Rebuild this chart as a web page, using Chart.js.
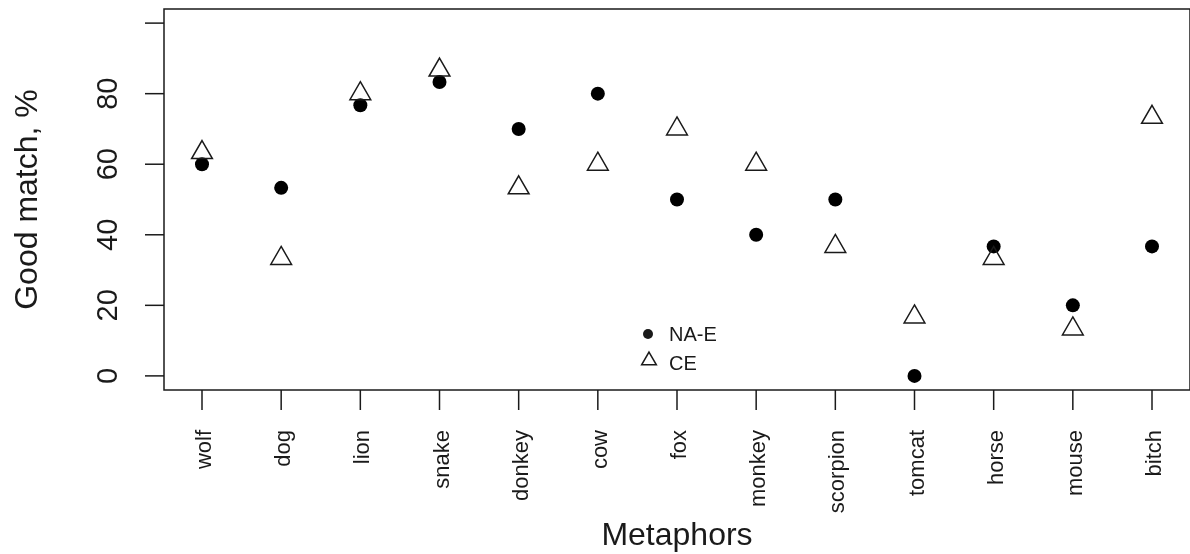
<!DOCTYPE html>
<html><head><meta charset="utf-8">
<script src="https://cdn.jsdelivr.net/npm/chart.js@4/dist/chart.umd.min.js"></script>
<style>
html,body{margin:0;padding:0;overflow:hidden;background:#fff}
#wrap{position:relative;width:1190px;height:554px}
</style>
</head><body>
<div id="wrap"><canvas id="c"></canvas></div>
<script>
const categories = ['wolf','dog','lion','snake','donkey','cow','fox','monkey','scorpion','tomcat','horse','mouse','bitch'];
const naE = [60, 53.3, 76.7, 83.3, 70, 80, 50, 40, 50, 0, 36.7, 20, 36.7];
const ce  = [63.3, 33.3, 80, 86.7, 53.3, 60, 70, 60, 36.7, 16.7, 33.3, 13.3, 73.3];
const yTicks = [0, 20, 40, 60, 80, 100];
const yTickLabels = ['0', '20', '40', '60', '80', ''];
const seriesNames = ['NA-E', 'CE'];
const xTitle = 'Metaphors';
const yTitle = 'Good match, %';

const FONT = '"Liberation Sans", Arial, sans-serif';
const INK = '#1a1a1a';

const toPoints = arr => arr.map((v, i) => ({x: i + 1, y: v}));

const axesPlugin = {
  id: 'rAxes',
  afterDraw(chart) {
    const ctx = chart.ctx;
    const a = chart.chartArea;
    const xs = chart.scales.x, ys = chart.scales.y;
    ctx.save();
    ctx.strokeStyle = INK;
    ctx.lineWidth = 1.5;
    ctx.strokeRect(a.left, a.top, a.right - a.left, a.bottom - a.top);
    // y ticks
    ctx.fillStyle = INK;
    ctx.font = '29px ' + FONT;
    ctx.textAlign = 'center';
    ctx.textBaseline = 'alphabetic';
    yTicks.forEach((v, i) => {
      const y = ys.getPixelForValue(v);
      ctx.beginPath(); ctx.moveTo(a.left, y); ctx.lineTo(a.left - 19, y); ctx.stroke();
      if (yTickLabels[i]) {
        ctx.save(); ctx.translate(117, y); ctx.rotate(-Math.PI / 2);
        ctx.fillText(yTickLabels[i], 0, 0); ctx.restore();
      }
    });
    // x ticks
    ctx.font = '22px ' + FONT;
    ctx.textAlign = 'right';
    ctx.textBaseline = 'middle';
    categories.forEach((c, i) => {
      const x = xs.getPixelForValue(i + 1);
      ctx.beginPath(); ctx.moveTo(x, a.bottom); ctx.lineTo(x, a.bottom + 20); ctx.stroke();
      ctx.save(); ctx.translate(x + 3, 430); ctx.rotate(-Math.PI / 2);
      ctx.fillText(c, 0, 0); ctx.restore();
    });
    // titles
    ctx.font = '32px ' + FONT;
    ctx.textAlign = 'center';
    ctx.textBaseline = 'alphabetic';
    ctx.fillText(xTitle, (a.left + a.right) / 2, 545);
    ctx.save(); ctx.translate(37, (a.top + a.bottom) / 2); ctx.rotate(-Math.PI / 2);
    ctx.fillText(yTitle, 0, 0); ctx.restore();
    // legend
    ctx.fillStyle = INK; ctx.beginPath(); ctx.arc(648, 334, 5, 0, Math.PI * 2); ctx.fill();
    ctx.strokeStyle = INK; ctx.lineWidth = 1.5; ctx.fillStyle = 'rgba(0,0,0,0)';
    Chart.helpers.drawPoint(ctx, {pointStyle: 'triangle', radius: 8.5, borderWidth: 1.5}, 649, 360.5);
    ctx.fillStyle = INK;
    ctx.font = '20px ' + FONT;
    ctx.textAlign = 'left';
    ctx.textBaseline = 'middle';
    ctx.fillText(seriesNames[0], 669, 335);
    ctx.fillText(seriesNames[1], 669, 364);
    ctx.restore();
  }
};

new Chart(document.getElementById('c'), {
  type: 'scatter',
  data: {
    datasets: [
      {label: seriesNames[1], data: toPoints(ce), pointStyle: 'triangle', pointRadius: 12,
       backgroundColor: 'rgba(0,0,0,0)', borderColor: INK, borderWidth: 1.5},
      {label: seriesNames[0], data: toPoints(naE), pointStyle: 'circle', pointRadius: 7,
       backgroundColor: '#000', borderColor: '#000', borderWidth: 0}
    ]
  },
  options: {
    responsive: true,
    maintainAspectRatio: false,
    animation: false,
    devicePixelRatio: 1,
    layout: {autoPadding: false, padding: {left: 164, top: 9, right: -10, bottom: 164}},
    plugins: {legend: {display: false}, tooltip: {enabled: false}},
    scales: {
      x: {type: 'linear', min: 0.52, max: 13.48, display: false},
      y: {type: 'linear', min: -4, max: 104, display: false}
    },
    elements: {point: {hoverRadius: 12}}
  },
  plugins: [axesPlugin]
});
</script>
</body></html>
